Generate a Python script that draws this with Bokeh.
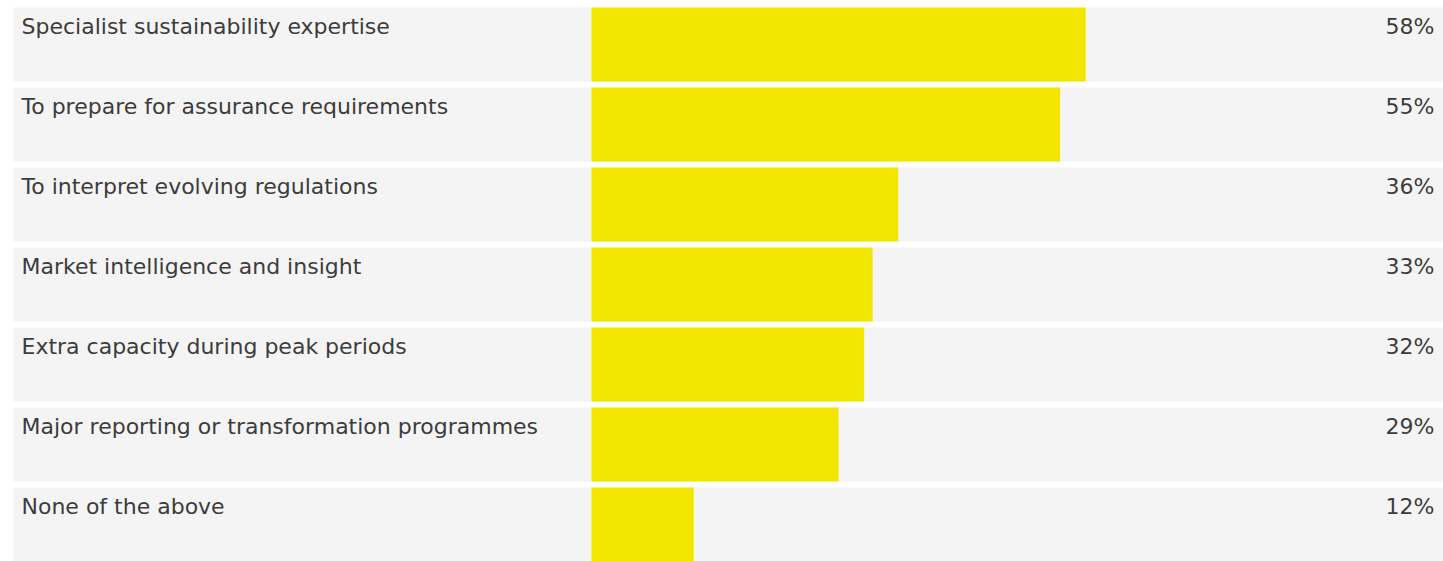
from bokeh.plotting import figure
from bokeh.models import Range1d, ColumnDataSource
from bokeh.core.properties import value
from bokeh.embed import file_html
from bokeh.resources import INLINE

categories = [
    "Specialist sustainability expertise",
    "To prepare for assurance requirements",
    "To interpret evolving regulations",
    "Market intelligence and insight",
    "Extra capacity during peak periods",
    "Major reporting or transformation programmes",
    "None of the above",
]
values = [58, 55, 36, 33, 32, 29, 12]
pct_labels = [f"{v}%" for v in values]

W, H = 1443, 561
bar_left_px = 591
px_per_unit = (W - bar_left_px) / 100.0
x_start = -bar_left_px / px_per_unit
bg_left = x_start + 13 / px_per_unit

pitch = 80.0
first_center = 44.0
y_top = -first_center / pitch
y_bottom = (H - first_center) / pitch

idx = list(range(len(categories)))
src = ColumnDataSource(dict(y=idx, v=values, cat=categories, pct=pct_labels,
                            bgl=[bg_left] * len(idx), bgr=[100] * len(idx), zero=[0] * len(idx)))

p = figure(width=W, height=H, output_backend="svg", toolbar_location=None,
           x_range=Range1d(x_start, 100), y_range=Range1d(y_bottom, y_top),
           min_border=0, outline_line_color=None)
p.axis.visible = False
p.grid.visible = False
p.background_fill_color = "white"
p.border_fill_color = "white"

h = 74 / pitch
p.hbar(y="y", left="bgl", right="bgr", height=h, source=src, fill_color="#f4f4f4", line_color=None)
p.hbar(y="y", left="zero", right="v", height=h, source=src, fill_color="#f2e600", line_color=None)

p.text(x=x_start + 21 / px_per_unit, y="y", text="cat", source=src, y_offset=-18,
       text_font=value("DejaVu Sans"), text_font_size="22px", text_color="#3c3c3c",
       text_baseline="middle", text_align="left")
p.text(x=100, y="y", text="pct", source=src, x_offset=-9, y_offset=-18,
       text_font=value("DejaVu Sans"), text_font_size="22px", text_color="#3c3c3c",
       text_baseline="middle", text_align="right")

open("out.html", "w").write(file_html(p, INLINE))
